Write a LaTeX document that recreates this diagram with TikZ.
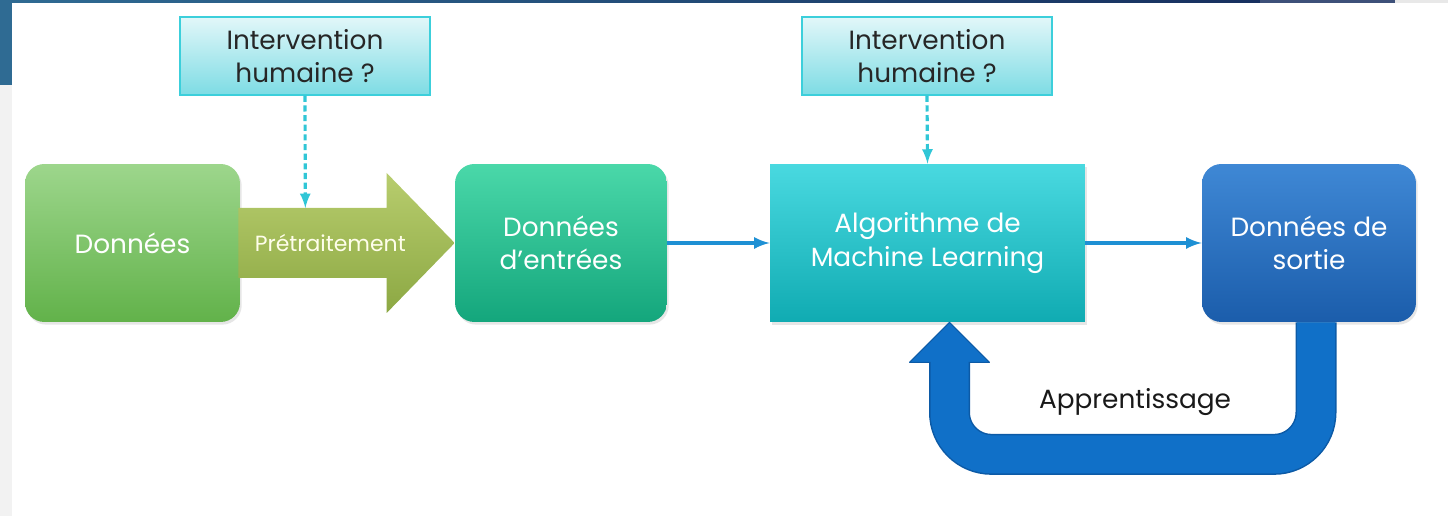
\documentclass[tikz,border=0pt]{standalone}
\usepackage{fontspec}
\setmainfont{Poppins}
\usetikzlibrary{calc,positioning,shadows,arrows}

\definecolor{dontop}{HTML}{9DD68C}
\definecolor{donbot}{HTML}{62B24A}
\definecolor{pretop}{HTML}{B8CD6E}
\definecolor{prebot}{HTML}{8CA843}
\definecolor{enttop}{HTML}{4AD8A9}
\definecolor{entbot}{HTML}{14A67C}
\definecolor{mltop}{HTML}{49D9E0}
\definecolor{mlbot}{HTML}{10ABB2}
\definecolor{sortop}{HTML}{3F88D5}
\definecolor{sorbot}{HTML}{1B5DAB}
\definecolor{humtop}{HTML}{E2F7F9}
\definecolor{humbot}{HTML}{7DDCE4}
\definecolor{humedge}{HTML}{3CCFDB}
\definecolor{loopfill}{HTML}{1070C8}
\definecolor{loopedge}{HTML}{0C5AA6}
\definecolor{flowblue}{HTML}{1E90D4}
\definecolor{dashcyan}{HTML}{30C6D6}
\definecolor{bandl}{HTML}{2F6B93}
\definecolor{bandr}{HTML}{17305F}
\definecolor{bandg}{HTML}{3D5079}

\tikzset{
  data_box/.style={rounded corners=11pt, minimum width=4.3cm, minimum height=3.16cm,
    text=white, align=center, font=\fontsize{15}{19}\selectfont,
    drop shadow={shadow xshift=1pt, shadow yshift=-1.5pt, opacity=0.2}},
  human_box/.style={draw=humedge, line width=0.8pt, top color=humtop, bottom color=humbot,
    minimum width=5cm, minimum height=1.56cm, align=center, text=black!85,
    font=\fontsize{15}{19}\selectfont},
  flow/.style={->, >=latex, draw=flowblue, line width=2pt},
  human_flow/.style={->, >=latex, draw=dashcyan, line width=1.8pt, dash pattern=on 3.5pt off 2pt},
}

\begin{document}
\begin{tikzpicture}[x=0.02cm, y=-0.02cm]
\useasboundingbox (0,0) rectangle (1448,516);

% screen border
\fill[left color=bandl, right color=bandr] (0,0) rectangle (1260,3);
\fill[bandg] (1260,0) rectangle (1395,3);
\fill[black!9] (1395,0) rectangle (1448,3);
\fill[bandl] (0,0) rectangle (12,85);
\fill[black!5] (0,85) rectangle (12,516);

% boxes
\node[data_box, top color=dontop, bottom color=donbot] (don) at (132.5,243) {Données};
\node[data_box, top color=enttop, bottom color=entbot, minimum width=4.24cm] (entree) at (561,243) {Données\\d’entrées};
\node[data_box, top color=mltop, bottom color=mlbot, sharp corners, minimum width=6.3cm] (ml) at (927.5,243) {Algorithme de\\Machine Learning};
\node[data_box, top color=sortop, bottom color=sorbot, minimum width=4.28cm] (sortie) at (1309,243) {Données de\\sortie};

\node[human_box] (hum1) at (305,56) {Intervention\\humaine ?};
\node[human_box] (hum2) at (927,56) {Intervention\\humaine ?};

% pretraitement arrow
\coordinate (pre_st) at ($(don.east)+(-2,0)$);
\coordinate (pre_tip) at (entree.west);
\coordinate (pre_top) at ($(pre_st)+(67,-35)$);
\shade[top color=pretop, bottom color=prebot]
  ($(pre_st)+(0,-35)$) -- ($(pre_tip)+(-68,-35)$) -- ($(pre_tip)+(-68,-70)$) -- (pre_tip)
  -- ($(pre_tip)+(-68,70)$) -- ($(pre_tip)+(-68,35)$) -- ($(pre_st)+(0,35)$) -- cycle;
\node[text=white!92!yellow, font=\fontsize{12.5}{15}\selectfont] (pre) at ($(pre_st)+(92,0)$) {Prétraitement};

% connectors
\draw[human_flow] (hum1.south) -- (pre_top);
\draw[human_flow] (hum2.south) -- (ml.north);
\draw[flow] (entree.east) -- (ml.west);
\draw[flow] (ml.east) -- (sortie.west);

% learning loop
\coordinate (loop_st) at ($(sortie.south)+(7,0)$);
\coordinate (loop_e) at ($(ml.south)+(22,0)$);
\draw[loopedge, line width=0.82cm, rounded corners=0.84cm] (loop_st) -- ++(0,132) -| ($(loop_e)+(0,35)$);
\filldraw[fill=loopfill, draw=loopedge, line width=0.6pt, line join=round]
  (loop_e) -- ($(loop_e)+(40,40)$) -- ($(loop_e)+(-40,40)$) -- cycle;
\draw[loopfill, line width=0.76cm, rounded corners=0.84cm] (loop_st) -- ++(0,132) -| ($(loop_e)+(0,35)$);
\node[text=black!90, font=\fontsize{15}{19}\selectfont] (learn) at (1135,402) {Apprentissage};
\end{tikzpicture}
\end{document}
